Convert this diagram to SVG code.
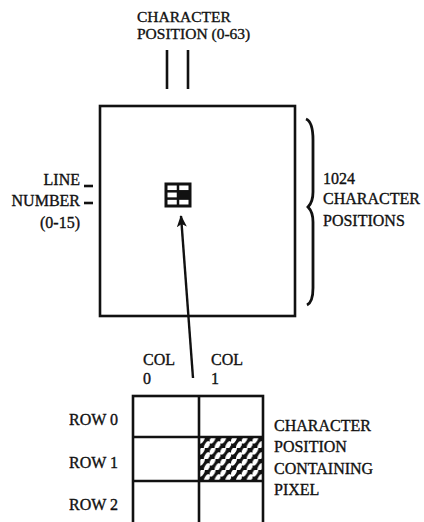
<svg xmlns="http://www.w3.org/2000/svg" width="424" height="522" viewBox="0 0 424 522">
<style>
text{font-family:"Liberation Serif","Times New Roman",serif;font-size:16px;fill:#111;stroke:#111;stroke-width:0.35}
.ln{stroke:#111;stroke-width:2.6;fill:none}
.r{text-anchor:end}
.top{font-size:15.5px}
</style>
<defs>
<marker id="ah" viewBox="0 0 12 10" refX="11" refY="5" markerWidth="12" markerHeight="10" markerUnits="userSpaceOnUse" orient="auto">
<path d="M0,0 L12,5 L0,10 L3,5 Z" fill="#111"/>
</marker>
<pattern id="hatch" width="10.7" height="11" patternUnits="userSpaceOnUse" x="199" y="437">
<rect width="10.7" height="11" fill="#111"/>
<ellipse cx="2.7" cy="2.7" rx="2.3" ry="4.4" transform="rotate(30 2.7 2.7)" fill="#fff"/>
<ellipse cx="8" cy="8.2" rx="2.3" ry="4.4" transform="rotate(30 8 8.2)" fill="#fff"/>
</pattern>
</defs>
<rect width="424" height="522" fill="#fff"/>

<g id="character-position-label">
<text class="top" x="137" y="22">CHARACTER</text>
<text class="top" x="137" y="38.5">POSITION (0-63)</text>
<line class="ln" x1="167" y1="50" x2="167" y2="89"/>
<line class="ln" x1="188" y1="50" x2="188" y2="89"/>
</g>

<g id="screen">
<rect class="ln" x="100" y="106" width="195" height="210"/>
</g>

<g id="line-number-label">
<text class="r" x="80" y="185">LINE</text>
<text class="r" x="80" y="206">NUMBER</text>
<text class="r" x="80" y="228">(0-15)</text>
<line class="ln" x1="84" y1="186" x2="93" y2="186"/>
<line class="ln" x1="84" y1="203" x2="93" y2="203"/>
</g>

<g id="mini-cell">
<rect x="166" y="184" width="24" height="22" fill="#fff" stroke="#111" stroke-width="3"/>
<line x1="178" y1="184" x2="178" y2="206" stroke="#111" stroke-width="2.5"/>
<line x1="166" y1="191.3" x2="190" y2="191.3" stroke="#111" stroke-width="2.5"/>
<line x1="166" y1="198.6" x2="190" y2="198.6" stroke="#111" stroke-width="2.5"/>
<rect x="178" y="191.3" width="12" height="7.3" fill="#111"/>
</g>

<g id="positions-brace">
<path d="M306,119 C311,121 313,128 313,140 L313,192 C313,200 311,204 308,207 C311,210 313,214 313,222 L313,288 C313,298 311,303 307,305" stroke="#111" stroke-width="2.8" fill="none"/>
<text x="323" y="184">1024</text>
<text x="323" y="204">CHARACTER</text>
<text x="323" y="226">POSITIONS</text>
</g>

<g id="pixel-grid">
<rect x="199" y="437" width="64" height="44" fill="url(#hatch)"/>
<rect class="ln" x="133" y="396" width="130" height="130"/>
<line class="ln" x1="199" y1="396" x2="199" y2="526"/>
<line class="ln" x1="133" y1="437" x2="263" y2="437"/>
<line class="ln" x1="133" y1="481" x2="263" y2="481"/>
<text x="143" y="365">COL</text>
<text x="143" y="384">0</text>
<text x="211" y="365">COL</text>
<text x="211" y="384">1</text>
<text class="r" x="118" y="425">ROW 0</text>
<text class="r" x="118" y="468">ROW 1</text>
<text class="r" x="118" y="510">ROW 2</text>
</g>

<g id="pixel-label">
<text x="274" y="431">CHARACTER</text>
<text x="274" y="452">POSITION</text>
<text x="274" y="474">CONTAINING</text>
<text x="274" y="495">PIXEL</text>
</g>

<g id="connectors">
<line x1="193" y1="378" x2="181" y2="216" stroke="#111" stroke-width="2.4" marker-end="url(#ah)"/>
</g>
</svg>
